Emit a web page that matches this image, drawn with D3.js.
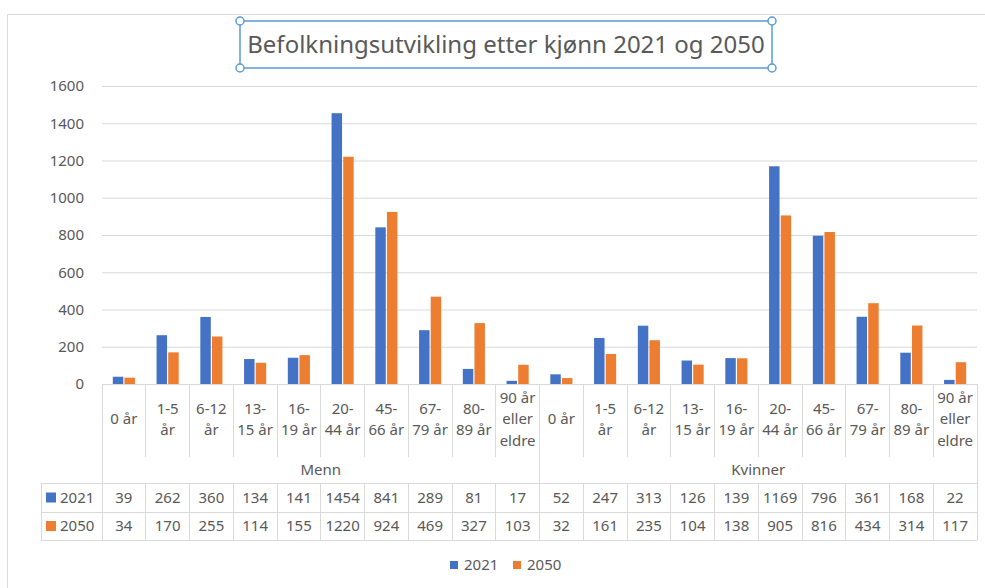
<!DOCTYPE html>
<html>
	<head>
		<meta charset="utf-8">
		<script src="https://cdn.jsdelivr.net/npm/d3@7"></script>
		<style>
			body { margin: 0; background: #fff; }
			text { font-family: "Noto Sans", "Open Sans", sans-serif; fill: #595959; }
		</style>
	</head>
	<body>
		<script>
			// data
			var groups = ["Menn", "Kvinner"];
			var ageGroups = ["0 år", "1-5 år", "6-12 år", "13-15 år", "16-19 år", "20-44 år", "45-66 år", "67-79 år", "80-89 år", "90 år eller eldre"];
			var ageLines = [["0 år"], ["1-5", "år"], ["6-12", "år"], ["13-", "15 år"], ["16-", "19 år"], ["20-", "44 år"], ["45-", "66 år"], ["67-", "79 år"], ["80-", "89 år"], ["90 år", "eller", "eldre"]];
			var series = ["2021", "2050"];
			var menn2021 = [39, 262, 360, 134, 141, 1454, 841, 289, 81, 17];
			var menn2050 = [34, 170, 255, 114, 155, 1220, 924, 469, 327, 103];
			var kvinner2021 = [52, 247, 313, 126, 139, 1169, 796, 361, 168, 22];
			var kvinner2050 = [32, 161, 235, 104, 138, 905, 816, 434, 314, 117];
			var yTicks = [0, 200, 400, 600, 800, 1000, 1200, 1400, 1600];
			var chartTitle = "Befolkningsutvikling etter kjønn 2021 og 2050";

			var colors = { "2021": "#4472c4", "2050": "#ed7d31" };
			var gridColor = "#d9d9d9";

			// one row per category (group + age)
			var rows = [];
			groups.forEach(function(g, gi){
				ageGroups.forEach(function(a, ai){
					rows.push({
						key: g + "|" + a,
						group: g,
						lines: ageLines[ai],
						"2021": gi == 0 ? menn2021[ai] : kvinner2021[ai],
						"2050": gi == 0 ? menn2050[ai] : kvinner2050[ai]
					});
				});
			});

			var width = 985, height = 588;
			var plotLeft = 102, plotRight = 977, plotTop = 86, plotBottom = 384;
			var catRowBottom = 457, groupRowBottom = 483, rowBottoms = [512, 540], keyLeft = 41;

			var svg = d3.select("body").append("svg")
				.attr("width", width)
				.attr("height", height);

			// chart area frame (runs off the right and bottom edge)
			svg.append("rect")
				.attr("x", 7.5).attr("y", 14.5)
				.attr("width", 1000).attr("height", 600)
				.attr("fill", "#fff")
				.attr("stroke", gridColor);

			var x0 = d3.scaleBand()
				.domain(rows.map(function(d){ return d.key; }))
				.range([plotLeft, plotRight]);

			var x1 = d3.scaleBand()
				.domain(series)
				.range([0, x0.bandwidth()])
				.paddingInner(0.1)
				.paddingOuter(0.93);

			var y = d3.scaleLinear()
				.domain([0, 1600])
				.range([plotBottom, plotTop]);

			// gridlines and y labels
			var yAxis = svg.append("g")
				.attr("transform", "translate(" + plotLeft + ",0)")
				.call(d3.axisLeft(y).tickValues(yTicks).tickSize(-(plotRight - plotLeft)).tickPadding(18).tickFormat(d3.format("d")));
			yAxis.select(".domain").remove();
			yAxis.selectAll(".tick line").attr("stroke", gridColor);
			yAxis.selectAll(".tick text")
				.attr("font-size", 15)
				.attr("fill", "#595959")
				.attr("font-family", "Noto Sans");

			// bars
			var cat = svg.selectAll("g.cat")
				.data(rows)
				.enter().append("g")
				.attr("class", "cat")
				.attr("transform", function(d){ return "translate(" + x0(d.key) + ",0)"; });

			cat.selectAll("rect")
				.data(function(d){ return series.map(function(s){ return { s: s, v: d[s] }; }); })
				.enter().append("rect")
				.attr("x", function(d){ return x1(d.s); })
				.attr("width", x1.bandwidth())
				.attr("y", function(d){ return y(d.v); })
				.attr("height", function(d){ return plotBottom - y(d.v); })
				.attr("fill", function(d){ return colors[d.s]; });

			// data table under the axis
			var table = svg.append("g")
				.attr("stroke", gridColor)
				.attr("shape-rendering", "crispEdges");

			table.append("line").attr("x1", plotLeft).attr("x2", plotRight).attr("y1", plotBottom).attr("y2", plotBottom);
			[groupRowBottom].concat(rowBottoms).forEach(function(yy){
				table.append("line").attr("x1", keyLeft).attr("x2", plotRight).attr("y1", yy).attr("y2", yy);
			});
			table.append("line").attr("x1", plotLeft).attr("x2", plotLeft).attr("y1", plotBottom).attr("y2", rowBottoms[1]);
			table.append("line").attr("x1", plotRight).attr("x2", plotRight).attr("y1", plotBottom).attr("y2", rowBottoms[1]);
			table.append("line").attr("x1", keyLeft).attr("x2", keyLeft).attr("y1", groupRowBottom).attr("y2", rowBottoms[1]);

			rows.forEach(function(d, i){
				if (i == 0) return;
				var xx = x0(d.key);
				var groupEdge = d.group != rows[i - 1].group;
				table.append("line").attr("x1", xx).attr("x2", xx)
					.attr("y1", plotBottom).attr("y2", groupEdge ? groupRowBottom : catRowBottom);
				table.append("line").attr("x1", xx).attr("x2", xx)
					.attr("y1", groupRowBottom).attr("y2", rowBottoms[1]);
			});

			// category labels
			var lineH = 21.5;
			cat.append("text")
				.attr("font-size", 15)
				.attr("text-anchor", "middle")
				.each(function(d){
					var t = d3.select(this);
					var y0 = 419 - (d.lines.length - 1) * lineH / 2;
					d.lines.forEach(function(l, li){
						t.append("tspan")
							.attr("x", x0.bandwidth() / 2)
							.attr("y", y0 + li * lineH)
							.attr("dy", "0.35em")
							.text(l);
					});
				});

			// group labels
			svg.selectAll("text.group")
				.data(groups)
				.enter().append("text")
				.attr("class", "group")
				.attr("font-size", 15)
				.attr("text-anchor", "middle")
				.attr("x", function(g){
					var keys = rows.filter(function(d){ return d.group == g; });
					return (x0(keys[0].key) + x0(keys[keys.length - 1].key) + x0.bandwidth()) / 2;
				})
				.attr("y", 470)
				.attr("dy", "0.35em")
				.text(function(g){ return g; });

			// value rows
			series.forEach(function(s, si){
				var rowTop = si == 0 ? groupRowBottom : rowBottoms[0];
				var cy = (rowTop + rowBottoms[si]) / 2;
				svg.append("rect")
					.attr("x", 46).attr("y", cy - 5)
					.attr("width", 10).attr("height", 10)
					.attr("fill", colors[s]);
				svg.append("text")
					.attr("font-size", 15)
					.attr("x", 60).attr("y", cy)
					.attr("dy", "0.35em")
					.text(s);
				cat.append("text")
					.attr("font-size", 15)
					.attr("text-anchor", "middle")
					.attr("x", x0.bandwidth() / 2)
					.attr("y", cy)
					.attr("dy", "0.35em")
					.text(function(d){ return d[s]; });
			});

			// legend
			var legend = svg.selectAll("g.legend")
				.data(series)
				.enter().append("g")
				.attr("class", "legend")
				.attr("transform", function(d, i){ return "translate(" + (450 + i * 63) + ",565)"; });
			legend.append("rect")
				.attr("y", -4).attr("width", 8).attr("height", 8)
				.attr("fill", function(d){ return colors[d]; });
			legend.append("text")
				.attr("x", 14)
				.attr("dy", "0.35em")
				.attr("font-size", 15)
				.text(function(d){ return d; });

			// title, shown selected with its handles
			var tb = { x: 240, y: 21, w: 532, h: 47 };
			svg.append("rect")
				.attr("x", tb.x).attr("y", tb.y)
				.attr("width", tb.w).attr("height", tb.h)
				.attr("fill", "none")
				.attr("stroke", "#5b9bd5")
				.attr("stroke-width", 1.5);
			svg.append("text")
				.attr("x", tb.x + tb.w / 2)
				.attr("y", tb.y + tb.h / 2)
				.attr("dy", "0.35em")
				.attr("text-anchor", "middle")
				.attr("font-size", 24)
				.text(chartTitle);
			[[0, 0], [1, 0], [0, 1], [1, 1]].forEach(function(c){
				svg.append("circle")
					.attr("cx", tb.x + c[0] * tb.w)
					.attr("cy", tb.y + c[1] * tb.h)
					.attr("r", 4)
					.attr("fill", "#fff")
					.attr("stroke", "#5b9bd5")
					.attr("stroke-width", 1.5);
			});
		</script>
	</body>
</html>
